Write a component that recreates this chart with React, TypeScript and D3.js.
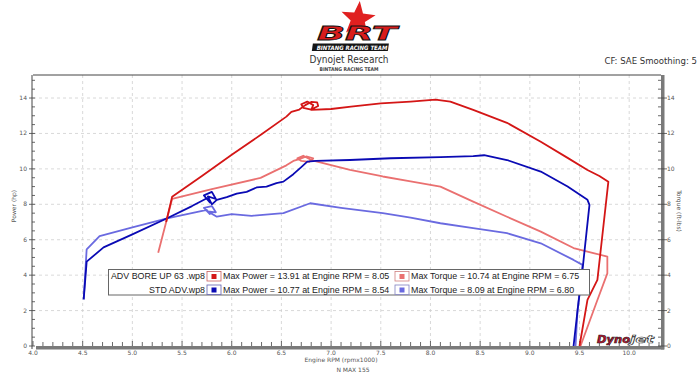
import React from "react";
import * as d3 from "d3";

// ---------- DATA ----------
const xTicks = [4.0, 4.5, 5.0, 5.5, 6.0, 6.5, 7.0, 7.5, 8.0, 8.5, 9.0, 9.5, 10.0];
const yTicks = [0, 2, 4, 6, 8, 10, 12, 14];

// ADV BORE UP 63 - power (hp)
const boreRpmP = [5.34, 5.40, 5.7, 6.0, 6.3, 6.55, 6.60, 6.68, 6.74, 6.80, 6.86, 6.87, 6.80, 6.72, 6.70, 6.76, 6.82, 6.80, 7.0, 7.2, 7.5, 7.8, 8.05, 8.2, 8.43, 8.77, 9.11, 9.38, 9.58, 9.70, 9.79, 9.68, 9.58, 9.50];
const borePower = [7.0, 8.42, 9.6, 10.8, 11.95, 12.95, 13.22, 13.35, 13.6, 13.78, 13.75, 13.55, 13.35, 13.45, 13.65, 13.8, 13.6, 13.33, 13.38, 13.52, 13.7, 13.8, 13.91, 13.8, 13.33, 12.6, 11.53, 10.62, 9.94, 9.6, 9.27, 3.73, 2.6, 0];
// ADV BORE UP 63 - torque (ft-lbs)
const boreRpmT = [5.26, 5.40, 5.8, 6.29, 6.55, 6.62, 6.68, 6.75, 6.82, 6.78, 6.70, 6.66, 6.72, 6.80, 7.19, 7.52, 7.8, 8.10, 8.43, 8.77, 9.11, 9.44, 9.64, 9.78, 9.78, 9.68, 9.51];
const boreTorque = [5.27, 8.3, 8.85, 9.49, 10.2, 10.45, 10.55, 10.7, 10.6, 10.4, 10.45, 10.6, 10.74, 10.5, 9.94, 9.57, 9.3, 9.0, 8.15, 7.3, 6.46, 5.53, 5.25, 5.05, 4.1, 2.6, 0];
// STD ADV - power (hp)
const stdRpmP = [4.51, 4.54, 4.71, 5.0, 5.35, 5.6, 5.75, 5.78, 5.72, 5.80, 5.84, 5.76, 5.80, 5.85, 5.95, 6.05, 6.15, 6.25, 6.35, 6.45, 6.52, 6.62, 6.70, 6.76, 6.85, 7.19, 7.6, 8.10, 8.43, 8.54, 8.77, 9.11, 9.38, 9.58, 9.60, 9.53, 9.48, 9.44];
const stdPower = [2.63, 4.76, 5.57, 6.3, 7.21, 7.9, 8.34, 8.1, 8.5, 8.7, 8.3, 8.45, 8.0, 8.25, 8.4, 8.6, 8.7, 8.95, 9.0, 9.2, 9.28, 9.7, 10.1, 10.41, 10.45, 10.5, 10.6, 10.66, 10.72, 10.77, 10.5, 9.85, 9.0, 8.25, 7.97, 4.3, 2.0, 0];
// STD ADV - torque (ft-lbs)
const stdRpmT = [4.51, 4.54, 4.67, 5.0, 5.35, 5.75, 5.78, 5.72, 5.80, 5.84, 5.76, 5.85, 6.0, 6.2, 6.52, 6.79, 7.1, 7.52, 7.8, 8.10, 8.43, 8.77, 9.11, 9.44, 9.53, 9.48, 9.46];
const stdTorque = [2.63, 5.46, 6.21, 6.7, 7.21, 7.68, 7.45, 7.8, 7.9, 7.55, 7.6, 7.3, 7.45, 7.35, 7.5, 8.06, 7.8, 7.5, 7.25, 6.93, 6.65, 6.37, 5.8, 4.86, 4.58, 2.0, 0];

const runNames = ["ADV BORE UP 63 .wp8", "STD ADV.wp8"];
const powerLabels = ["Max Power = 13.91 at Engine RPM = 8.05", "Max Power = 10.77 at Engine RPM = 8.54"];
const torqueLabels = ["Max Torque = 10.74 at Engine RPM = 6.75", "Max Torque = 8.09 at Engine RPM = 6.80"];

// ---------- STYLE ----------
const C_BORE_P = "#d41616";
const C_BORE_T = "#ea7070";
const C_STD_P = "#0a0ab4";
const C_STD_T = "#6a6ae0";

const W = 700, H = 381;
const L = 33, R = 661, T = 75, B = 346;

export default function App() {
  const x = d3.scaleLinear().domain([4, 10.32]).range([L, R]);
  const y = d3.scaleLinear().domain([0, 15.3]).range([B, T]);
  const line = d3.line<[number, number]>().x(d => x(d[0])).y(d => y(d[1]));
  const mk = (xs: number[], ys: number[]) => line(xs.map((v, i) => [v, ys[i]] as [number, number])) || "";

  const minorX = d3.range(40, 104).map(v => v / 10).filter(v => Math.abs(v * 2 - Math.round(v * 2)) > 1e-6);
  const minorY = d3.range(1, 31).map(v => v / 2).filter(v => v % 2 !== 0);

  const star = (cx: number, cy: number, r1: number, r2: number, rot: number) => {
    const pts: string[] = [];
    for (let i = 0; i < 10; i++) {
      const r = i % 2 === 0 ? r1 : r2;
      const a = -Math.PI / 2 + (i * Math.PI) / 5 + rot;
      pts.push(`${cx + r * Math.cos(a)},${cy + r * Math.sin(a)}`);
    }
    return pts.join(" ");
  };

  const tickFont = { fontFamily: "DejaVu Sans, sans-serif", fontSize: 6, fill: "#555" };
  const legFont = { fontFamily: "Liberation Sans, Arial, sans-serif", fontSize: 8.9, fill: "#222" };

  return (
    <svg width={W} height={H} style={{ position: "absolute", left: 0, top: 0, background: "#fff" }}>
      <rect x={0} y={0} width={W} height={H} fill="#fff" />
      {/* BRT logo */}
      <polygon points={star(358, 19, 18, 7.5, 0.1)} fill="#e02020" />
      <text x={357} y={39.5} textAnchor="middle" fontFamily="DejaVu Sans, sans-serif" fontWeight="bold" fontStyle="italic" fontSize={20} fill="#d81c1c" stroke="#111" strokeWidth={0.8} textLength={80} lengthAdjust="spacingAndGlyphs">BRT</text>
      <rect x={313} y={43.5} width={76} height={7.5} fill="#151515" transform="skewX(-8) translate(6,0)" />
      <text x={352} y={50} textAnchor="middle" fontFamily="DejaVu Sans Condensed, DejaVu Sans, sans-serif" fontWeight="bold" fontStyle="italic" fontSize={6} fill="#fff">BINTANG RACING TEAM</text>
      <text x={349} y={63} textAnchor="middle" fontFamily="DejaVu Sans Condensed, DejaVu Sans, sans-serif" fontSize={10} fill="#333">Dynojet Research</text>
      <text x={349} y={71} textAnchor="middle" fontFamily="DejaVu Sans Condensed, DejaVu Sans, sans-serif" fontWeight="bold" fontSize={5} fill="#444">BINTANG RACING TEAM</text>
      <text x={697} y={64} textAnchor="end" fontFamily="DejaVu Sans Condensed, DejaVu Sans, sans-serif" fontSize={9.5} fill="#333">CF: SAE Smoothing: 5</text>

      {/* grid */}
      {xTicks.slice(1).map(v => (
        <line key={"gx" + v} x1={x(v)} x2={x(v)} y1={T} y2={B} stroke="#cfcfcf" strokeWidth={0.8} strokeDasharray="3,3" />
      ))}
      {yTicks.slice(1).map(v => (
        <line key={"gy" + v} x1={L} x2={R} y1={y(v)} y2={y(v)} stroke="#cfcfcf" strokeWidth={0.8} strokeDasharray="3,3" />
      ))}

      {/* frame */}
      <line x1={L} x2={R} y1={T} y2={T} stroke="#444" strokeWidth={1} />
      <line x1={L - 1} x2={L - 1} y1={T} y2={B + 3} stroke="#444" strokeWidth={1} />
      <rect x={L + 3} y={B} width={R - L} height={3.5} fill="#7a7a7a" />
      <rect x={R} y={T} width={3.5} height={B - T + 3.5} fill="#7a7a7a" />

      {/* x ticks */}
      {xTicks.map(v => (
        <g key={"xt" + v}>
          <line x1={x(v)} x2={x(v)} y1={B} y2={B - 5} stroke="#444" strokeWidth={0.8} />
          <text x={x(v)} y={354.5} textAnchor="middle" {...tickFont}>{v.toFixed(1)}</text>
        </g>
      ))}
      {minorX.map(v => (
        <line key={"mx" + v} x1={x(v)} x2={x(v)} y1={B} y2={B - 4} stroke="#444" strokeWidth={0.8} />
      ))}
      {/* y ticks left & right */}
      {yTicks.map(v => (
        <g key={"yt" + v}>
          <line x1={L - 4} x2={L + 2} y1={y(v)} y2={y(v)} stroke="#444" strokeWidth={0.8} />
          <text x={27} y={y(v) + 2} textAnchor="end" {...tickFont}>{v}</text>
          <line x1={R - 3} x2={R + 6} y1={y(v)} y2={y(v)} stroke="#444" strokeWidth={0.8} />
          <text x={667} y={y(v) + 2} textAnchor="start" {...tickFont}>{v}</text>
        </g>
      ))}
      {minorY.map(v => (
        <g key={"my" + v}>
          <line x1={L - 1} x2={L + 2} y1={y(v)} y2={y(v)} stroke="#444" strokeWidth={0.8} />
          <line x1={R - 3} x2={R} y1={y(v)} y2={y(v)} stroke="#444" strokeWidth={0.8} />
        </g>
      ))}

      {/* axis titles */}
      <text transform="translate(16,206) rotate(-90)" textAnchor="middle" {...tickFont}>Power (hp)</text>
      <text transform="translate(677,211) rotate(90)" textAnchor="middle" {...tickFont}>Torque (ft-lbs)</text>
      <text x={341} y={361.5} textAnchor="middle" {...tickFont}>Engine RPM (rpmx1000)</text>
      <text x={353} y={371.5} textAnchor="middle" {...tickFont}>N MAX 155</text>

      {/* curves */}
      <g fill="none" strokeWidth={1.8} strokeLinejoin="round">
        <path d={mk(stdRpmT, stdTorque)} stroke={C_STD_T} />
        <path d={mk(boreRpmT, boreTorque)} stroke={C_BORE_T} />
        <path d={mk(stdRpmP, stdPower)} stroke={C_STD_P} />
        <path d={mk(boreRpmP, borePower)} stroke={C_BORE_P} />
      </g>

      {/* Dynojet logo */}
      <g transform="translate(597,343)">
        <text x={0} y={0} fontFamily="DejaVu Sans, sans-serif" fontWeight="bold" fontStyle="italic" fontSize={10} fill="#c8102e" stroke="#222" strokeWidth={0.6} textLength={33} lengthAdjust="spacingAndGlyphs">Dyno</text>
        <text x={33} y={0} fontFamily="DejaVu Sans, sans-serif" fontWeight="bold" fontStyle="italic" fontSize={10} fill="#fff" stroke="#333" strokeWidth={0.6} textLength={24} lengthAdjust="spacingAndGlyphs">jet</text>
      </g>

      {/* legend */}
      <rect x={108.5} y={269.5} width={481} height={25.5} fill="#fff" stroke="#666" strokeWidth={1} />
      {runNames.map((n, i) => {
        const cy = 276 + i * 13.5;
        const pc = i === 0 ? C_BORE_P : C_STD_P;
        const tc = i === 0 ? C_BORE_T : C_STD_T;
        return (
          <g key={n}>
            <text x={205} y={cy + 3} textAnchor="end" {...legFont}>{n}</text>
            <rect x={207} y={cy - 4.5} width={14} height={9.5} fill="#fff" stroke={i === 0 ? "#c86060" : "#6060b0"} strokeWidth={0.8} />
            <rect x={211.5} y={cy - 2} width={5} height={5} fill={pc} />
            <text x={223} y={cy + 3} {...legFont}>{powerLabels[i]}</text>
            <rect x={395} y={cy - 4.5} width={14} height={9.5} fill="#fff" stroke={i === 0 ? "#d08080" : "#8080c0"} strokeWidth={0.8} />
            <rect x={399.5} y={cy - 2} width={5} height={5} fill={tc} />
            <text x={411} y={cy + 3} {...legFont}>{torqueLabels[i]}</text>
          </g>
        );
      })}
    </svg>
  );
}
